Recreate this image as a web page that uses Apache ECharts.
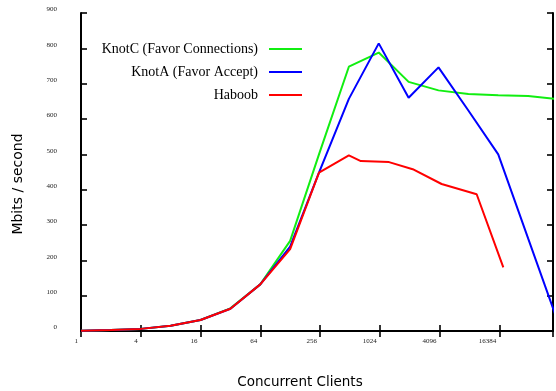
<!DOCTYPE html>
<html>
<head>
<meta charset="utf-8">
<script src="https://cdn.jsdelivr.net/npm/echarts@6/dist/echarts.min.js"></script>
<style>
  html, body { margin: 0; padding: 0; background: #fff; }
  #chart { width: 556px; height: 391px; }
</style>
</head>
<body>
<div id="chart"></div>
<script>
// Throughput (Mbits/s) against number of concurrent clients, log-scaled x axis.
const knotClients   = [1, 2, 4, 8, 16, 32, 64, 128, 250, 500, 1000, 2000, 4000, 8000, 16000, 32000, 64000];
const knotCValues   = [1, 3, 6, 15, 31, 64, 132, 255, 500, 748, 788, 705, 681, 671, 667, 665, 656];
const knotAValues   = [1, 3, 6, 15, 31, 63, 132, 239, 448, 657, 814, 660, 746, 624, 500, 262, 25];
const haboobClients = [1, 2, 4, 8, 16, 32, 64, 128, 250, 500, 660, 1270, 2200, 4300, 9700, 18000];
const haboobValues  = [1, 3, 6, 15, 31, 63, 132, 232, 448, 497, 481, 478, 458, 416, 387, 180];

const xTickLabels = [1, 4, 16, 64, 256, 1024, 4096, 16384];
const yTicks = [0, 100, 200, 300, 400, 500, 600, 700, 800, 900];

const seriesNames = ['KnotC (Favor Connections)', 'KnotA (Favor Accept)', 'Haboob'];
const seriesColors = ['#11ee11', '#0000ff', '#ff0000'];

const pairs = (xs, ys) => xs.map((x, i) => [x, ys[i]]);

const X_MAX = 57000;
const serif = '"Liberation Serif", "Times New Roman", serif';
const sans = '"DejaVu Sans", sans-serif';

function xLabel(v) {
  const hit = xTickLabels.find(t => Math.abs(v - t) / t < 1e-6);
  return hit === undefined ? '' : String(hit);
}

const tickStyle = { show: true, inside: true, length: 6, lineStyle: { color: '#000', width: 1.6 } };
const frameLine = { show: true, lineStyle: { color: '#000', width: 2 } };

const chart = echarts.init(document.getElementById('chart'), null, { renderer: 'canvas' });

// one legend block per series so every line sample ends at the same x
const legendRows = [41, 64, 87];

chart.setOption({
  animation: false,
  backgroundColor: '#fff',
  grid: { left: 81, right: 3, top: 13, bottom: 60, containLabel: false, outerBoundsMode: 'none' },
  legend: seriesNames.map((name, i) => ({
    data: [name],
    right: 254,
    top: legendRows[i],
    padding: 0,
    orient: 'vertical',
    align: 'right',
    icon: 'rect',
    itemWidth: 33,
    itemHeight: 2,
    selectedMode: false,
    textStyle: { fontFamily: serif, fontSize: 14, color: '#000', lineHeight: 16, padding: [0, 6, 0, 0] }
  })),
  xAxis: [
    {
      type: 'log',
      logBase: 4,
      min: 1,
      max: X_MAX,
      position: 'bottom',
      name: 'Concurrent Clients',
      nameLocation: 'middle',
      nameGap: 44,
      nameTextStyle: { fontFamily: sans, fontSize: 13.5, color: '#000', padding: [0, 34, 0, 0] },
      axisLine: frameLine,
      axisTick: tickStyle,
      axisLabel: {
        margin: 7,
        fontFamily: serif,
        fontSize: 7,
        color: '#222',
        align: 'right',
        padding: [0, 3, 0, 0],
        formatter: xLabel
      },
      splitLine: { show: false },
      minorTick: { show: false }
    },
    {
      type: 'log',
      logBase: 4,
      min: 1,
      max: X_MAX,
      position: 'top',
      axisLine: frameLine,
      axisTick: tickStyle,
      axisLabel: { show: false },
      splitLine: { show: false }
    }
  ],
  yAxis: [
    {
      type: 'value',
      min: yTicks[0],
      max: yTicks[yTicks.length - 1],
      interval: 100,
      position: 'left',
      name: 'Mbits / second',
      nameLocation: 'middle',
      nameGap: 56,
      nameRotate: 90,
      nameTextStyle: { fontFamily: sans, fontSize: 14, color: '#000', padding: [0, 24, 0, 0] },
      axisLine: frameLine,
      axisTick: tickStyle,
      axisLabel: {
        margin: 24,
        fontFamily: serif,
        fontSize: 7,
        lineHeight: 7,
        verticalAlign: 'bottom',
        color: '#222'
      },
      splitLine: { show: false }
    },
    {
      type: 'value',
      min: yTicks[0],
      max: yTicks[yTicks.length - 1],
      interval: 100,
      position: 'right',
      axisLine: frameLine,
      axisTick: tickStyle,
      axisLabel: { show: false },
      splitLine: { show: false }
    }
  ],
  series: [
    {
      name: seriesNames[0],
      type: 'line',
      data: pairs(knotClients, knotCValues),
      showSymbol: false,
      symbol: 'none',
      clip: false,
      z: 2,
      color: seriesColors[0],
      lineStyle: { width: 2, color: seriesColors[0] }
    },
    {
      name: seriesNames[1],
      type: 'line',
      data: pairs(knotClients, knotAValues),
      showSymbol: false,
      symbol: 'none',
      clip: false,
      z: 3,
      color: seriesColors[1],
      lineStyle: { width: 2, color: seriesColors[1] }
    },
    {
      name: seriesNames[2],
      type: 'line',
      data: pairs(haboobClients, haboobValues),
      showSymbol: false,
      symbol: 'none',
      clip: false,
      z: 4,
      color: seriesColors[2],
      lineStyle: { width: 2, color: seriesColors[2] }
    }
  ]
});
</script>
</body>
</html>
